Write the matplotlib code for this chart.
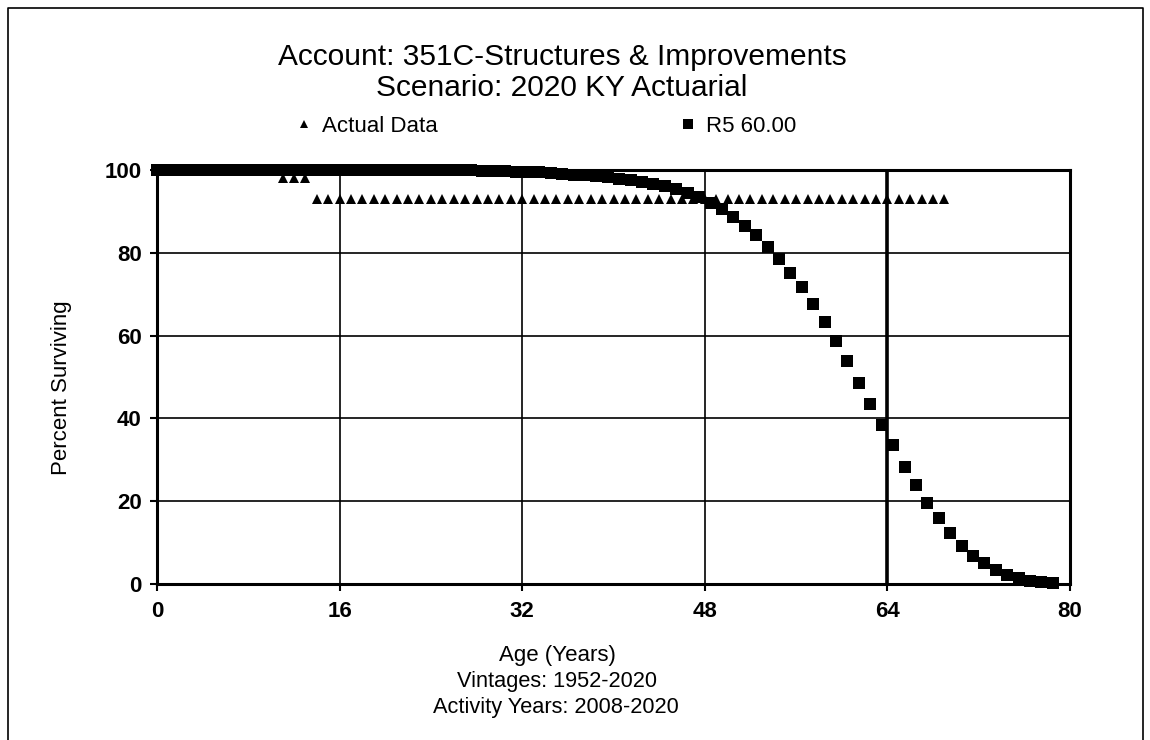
import matplotlib
matplotlib.use("Agg")
import matplotlib.pyplot as plt
from matplotlib.lines import Line2D

plt.rcParams['font.family'] = ['Liberation Sans', 'DejaVu Sans']

# ---------------- data ----------------
actual_age = [0, 1, 2, 3, 4, 5, 6, 7, 8, 9, 10, 11, 12, 13, 14, 15, 16, 17, 18, 19,
              20, 21, 22, 23, 24, 25, 26, 27, 28, 29, 30, 31, 32, 33, 34, 35, 36, 37, 38, 39,
              40, 41, 42, 43, 44, 45, 46, 47, 48, 49, 50, 51, 52, 53, 54, 55, 56, 57, 58, 59,
              60, 61, 62, 63, 64, 65, 66, 67, 68, 69]
actual_pct = [100, 100, 100, 100, 100, 100, 100, 100, 100, 100, 100, 98.0, 98.0, 98.0,
              93.0, 93.0, 93.0, 93.0, 93.0, 93.0, 93.0, 93.0, 93.0, 93.0, 93.0, 93.0, 93.0, 93.0,
              93.0, 93.0, 93.0, 93.0, 93.0, 93.0, 93.0, 93.0, 93.0, 93.0, 93.0, 93.0, 93.0, 93.0,
              93.0, 93.0, 93.0, 93.0, 93.0, 93.0, 93.0, 93.0, 93.0, 93.0, 93.0, 93.0, 93.0, 93.0,
              93.0, 93.0, 93.0, 93.0, 93.0, 93.0, 93.0, 93.0, 93.0, 93.0, 93.0, 93.0, 93.0, 93.0]

curve_age = [0, 0.5, 1.5, 2.5, 3.5, 4.5, 5.5, 6.5, 7.5, 8.5, 9.5, 10.5, 11.5, 12.5, 13.5,
             14.5, 15.5, 16.5, 17.5, 18.5, 19.5, 20.5, 21.5, 22.5, 23.5, 24.5, 25.5, 26.5,
             27.5, 28.5, 29.5, 30.5, 31.5, 32.5, 33.5, 34.5, 35.5, 36.5, 37.5, 38.5, 39.5,
             40.5, 41.5, 42.5, 43.5, 44.5, 45.5, 46.5, 47.5, 48.5, 49.5, 50.5, 51.5, 52.5,
             53.5, 54.5, 55.5, 56.5, 57.5, 58.5, 59.5, 60.5, 61.5, 62.5, 63.5, 64.5, 65.5,
             66.5, 67.5, 68.5, 69.5, 70.5, 71.5, 72.5, 73.5, 74.5, 75.5, 76.5, 77.5, 78.5]
curve_pct = [100, 100, 100, 100, 100, 100, 100, 100, 100, 100, 100, 100, 100, 100, 100,
             100, 100, 100, 100, 100, 100, 100, 100, 100, 100, 100, 99.9, 99.9,
             99.9, 99.8, 99.8, 99.7, 99.6, 99.5, 99.4, 99.3, 99.1, 98.9, 98.7, 98.5, 98.2,
             97.9, 97.6, 97.2, 96.7, 96.1, 95.3, 94.4, 93.4, 92.1, 90.7, 88.7, 86.5, 84.3,
             81.5, 78.5, 75.2, 71.7, 67.6, 63.2, 58.6, 53.9, 48.6, 43.5, 38.4, 33.6, 28.3,
             23.9, 19.6, 15.9, 12.2, 9.2, 6.8, 5.0, 3.4, 2.2, 1.4, 0.8, 0.5, 0.2]

x_ticks = [0, 16, 32, 48, 64, 80]
y_ticks = [0, 20, 40, 60, 80, 100]

title_lines = ["Account: 351C-Structures & Improvements", "Scenario: 2020 KY Actuarial"]
series_names = ["Actual Data", "R5 60.00"]
x_label_lines = ["Age (Years)", "Vintages: 1952-2020", "Activity Years: 2008-2020"]
y_label = "Percent Surviving"

# ---------------- figure ----------------
W, H = 1150, 740
fig = plt.figure(figsize=(W / 100, H / 100), dpi=100)
fig.patch.set_facecolor('white')

L, R, T, B = 157, 1070, 170, 584
ax = fig.add_axes([L / W, 1 - B / H, (R - L) / W, (B - T) / H])

ax.plot(actual_age, actual_pct, linestyle='none', marker='^', markersize=7.5,
        color='black', markeredgewidth=0, clip_on=False, zorder=3)
ax.plot(curve_age, curve_pct, linestyle='none', marker='s', markersize=8.6,
        color='black', markeredgewidth=0, clip_on=False, zorder=4)

ax.set_xlim(0, 80)
ax.set_ylim(0, 100)
ax.set_xticks(x_ticks)
ax.set_yticks(y_ticks)
ax.set_xticklabels([str(v) for v in x_ticks], fontsize=16, fontweight='bold')
ax.set_yticklabels([str(v) for v in y_ticks], fontsize=16, fontweight='bold')
ax.tick_params(axis='both', direction='out', length=5, width=1.5, color='black', pad=6)
ax.tick_params(axis='x', pad=7)

ax.grid(True, color='black', linewidth=1.2)
ax.set_axisbelow(True)
gl = ax.xaxis.get_gridlines()
gl[4].set_linewidth(2.6)
for s in ax.spines.values():
    s.set_linewidth(2.2)
    s.set_color('black')

# y label
fig.text(62 / W, 1 - 388 / H, y_label, rotation=90, ha='center', va='center',
         fontsize=16)

# title
fig.text(562 / W, 1 - 57 / H, title_lines[0], ha='center', va='center', fontsize=21.5)
fig.text(562 / W, 1 - 88 / H, title_lines[1], ha='center', va='center', fontsize=21.5)

# bottom texts
fig.text(557 / W, 1 - 656 / H, x_label_lines[0], ha='center', va='center', fontsize=16)
fig.text(557 / W, 1 - 682 / H, x_label_lines[1], ha='center', va='center', fontsize=15.7)
fig.text(556 / W, 1 - 708 / H, x_label_lines[2], ha='center', va='center', fontsize=15.7)

# legend
h1 = Line2D([], [], linestyle='none', marker='^', markersize=5.5, color='black', markeredgewidth=0)
h2 = Line2D([], [], linestyle='none', marker='s', markersize=7, color='black', markeredgewidth=0)
fig.legend([h1, h2], series_names, loc='center left', bbox_to_anchor=(295.6 / W, 1 - 126 / H),
           ncol=2, frameon=False, fontsize=16, handlelength=0.8, handletextpad=0.37,
           columnspacing=10.9, borderpad=0, borderaxespad=0)

# figure border (left, top, right)
fig.add_artist(Line2D([8 / W, 8 / W, 1143 / W, 1143 / W], [0, 1 - 8 / H, 1 - 8 / H, 0],
                      transform=fig.transFigure, color='black', linewidth=1.2))

fig.savefig('out.png', dpi=100)
